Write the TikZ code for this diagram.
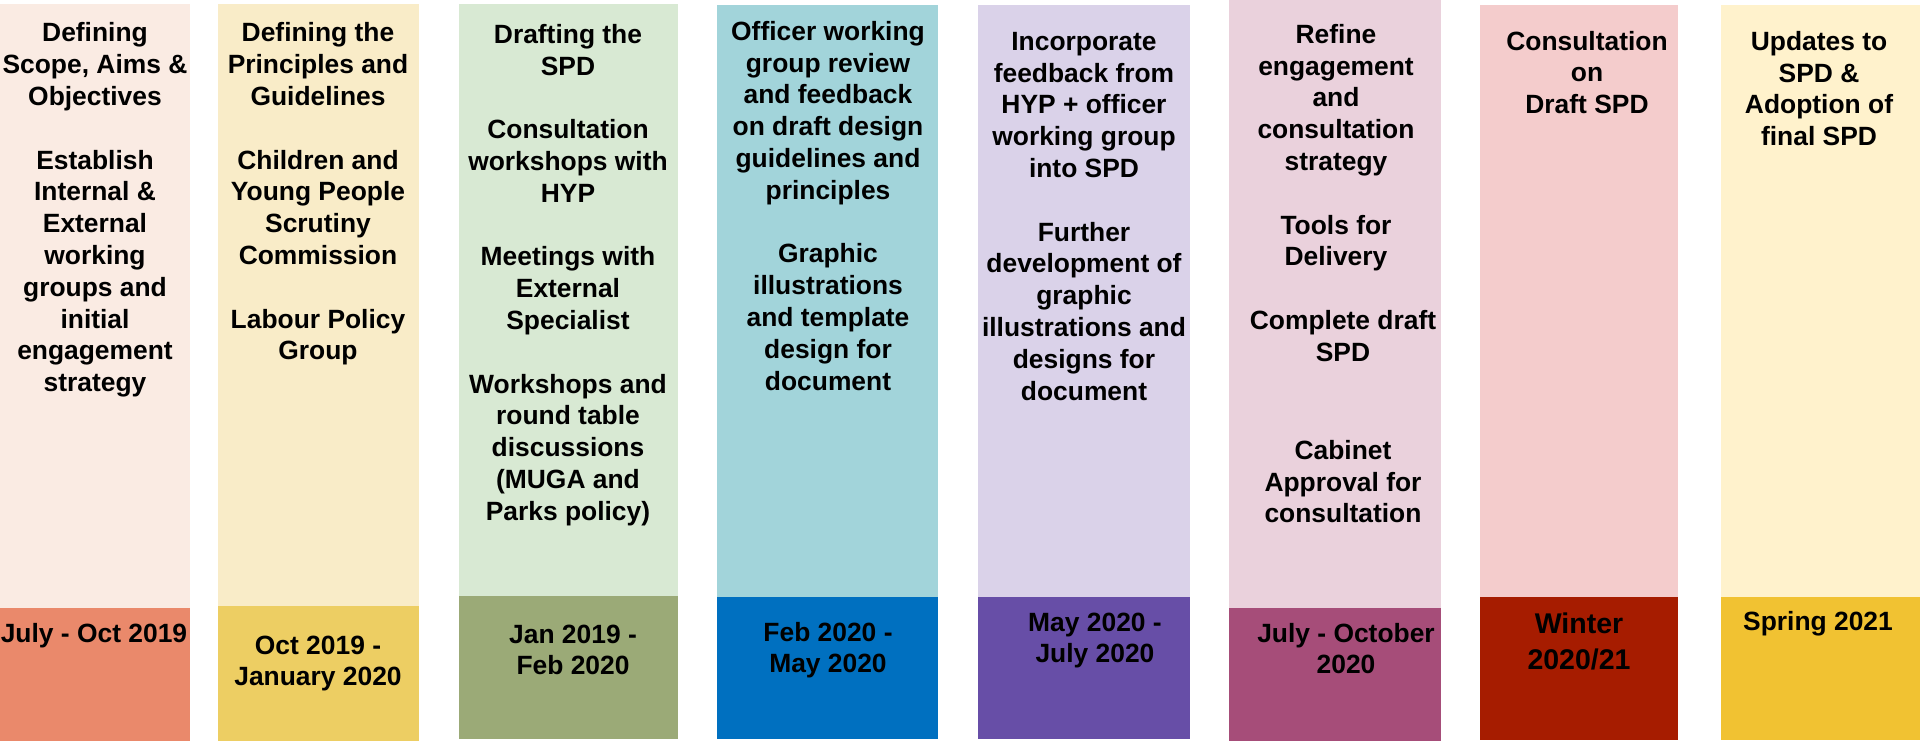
\documentclass[tikz,border=0pt]{standalone}
\usepackage{fontspec}
\setmainfont{Liberation Sans}
\definecolor{cAl}{HTML}{FAEBE3}\definecolor{cAd}{HTML}{EA896B}
\definecolor{cBl}{HTML}{F9ECC8}\definecolor{cBd}{HTML}{EDCE63}
\definecolor{cCl}{HTML}{D8E9D3}\definecolor{cCd}{HTML}{9BAA77}
\definecolor{cDl}{HTML}{A2D4DA}\definecolor{cDd}{HTML}{0070C0}
\definecolor{cEl}{HTML}{DAD2E9}\definecolor{cEd}{HTML}{674EA7}
\definecolor{cFl}{HTML}{EAD1DC}\definecolor{cFd}{HTML}{A64D79}
\definecolor{cGl}{HTML}{F4CCCC}\definecolor{cGd}{HTML}{A61C00}
\definecolor{cHl}{HTML}{FFF2CC}\definecolor{cHd}{HTML}{F1C232}
\tikzset{
  txt/.style={anchor=north, inner sep=0pt, align=center, text=black,
    font=\fontsize{26.4pt}{31.8pt}\selectfont\bfseries},
  bigtxt/.style={anchor=north, inner sep=0pt, align=center, text=black,
    font=\fontsize{28.5pt}{36.7pt}\selectfont\bfseries}
}
\newcommand{\gp}{\\[31.8pt]}
\begin{document}
\begin{tikzpicture}[x=1pt,y=-1pt]
\useasboundingbox (0,0) rectangle (1920,741);
\fill[white] (0,0) rectangle (1920,741);
% column boxes
\fill[cAl] (0,4) rectangle (190,608);     \fill[cAd] (0,608) rectangle (190,741);
\fill[cBl] (218,4) rectangle (419,606);   \fill[cBd] (218,606) rectangle (419,741);
\fill[cCl] (459,4) rectangle (678,596);   \fill[cCd] (459,596) rectangle (678,739);
\fill[cDl] (717,5) rectangle (938,597);   \fill[cDd] (717,597) rectangle (938,739);
\fill[cEl] (978,5) rectangle (1190,597);  \fill[cEd] (978,597) rectangle (1190,739);
\fill[cFl] (1229,0) rectangle (1441,608); \fill[cFd] (1229,608) rectangle (1441,741);
\fill[cGl] (1480,5) rectangle (1678,597); \fill[cGd] (1480,597) rectangle (1678,740);
\fill[cHl] (1721,5) rectangle (1920,597); \fill[cHd] (1721,597) rectangle (1920,740);
% top texts
\node[txt] (t1) at (95,19.44) {\strut Defining\\Scope, Aims \&\\Objectives\gp Establish\\Internal \&\\External\\working\\groups and\\initial\\engagement\\strategy};
\node[txt] (t2) at (318,19.44) {\strut Defining the\\Principles and\\Guidelines\gp Children and\\Young People\\Scrutiny\\Commission\gp Labour Policy\\Group};
\node[txt] (t3) at (568,20.74) {\strut Drafting the\\SPD\gp Consultation\\workshops with\\HYP\gp Meetings with\\External\\Specialist\gp Workshops and\\round table\\discussions\\(MUGA and\\Parks policy)};
\node[txt] (t4) at (828,17.74) {\strut Officer working\\group review\\and feedback\\on draft design\\guidelines and\\principles\gp Graphic\\illustrations\\and template\\design for\\document};
\node[txt] (t5) at (1084,27.74) {\strut Incorporate\\feedback from\\HYP + officer\\working group\\into SPD\gp Further\\development of\\graphic\\illustrations and\\designs for\\document};
\node[txt] (t6a) at (1336,20.74) {\strut Refine\\engagement\\and\\consultation\\strategy\gp Tools for\\Delivery};
\node[txt] (t6b) at (1343,306.74) {\strut Complete draft\\SPD};
\node[txt] (t6c) at (1343,436.74) {\strut Cabinet\\Approval for\\consultation};
\node[txt] (t7) at (1587,27.74) {\strut Consultation\\on\\Draft SPD};
\node[txt] (t8) at (1819,27.74) {\strut Updates to\\SPD \&\\Adoption of\\final SPD};
% date bands
\node[txt] (d1) at (94,619.7) {\strut July - Oct 2019};
\node[txt] (d2) at (318,631.7) {\strut Oct 2019 -\\January 2020};
\node[txt] (d3) at (573,620.7) {\strut Jan 2019 -\\Feb 2020};
\node[txt] (d4) at (828,618.7) {\strut Feb 2020 -\\May 2020};
\node[txt] (d5) at (1095,608.7) {\strut May 2020 -\\July 2020};
\node[txt] (d6) at (1346,619.7) {\strut July - October\\2020};
\node[bigtxt] (d7) at (1579,607.3) {\strut Winter\\2020/21};
\node[txt] (d8) at (1818,607.7) {\strut Spring 2021};
\end{tikzpicture}
\end{document}
